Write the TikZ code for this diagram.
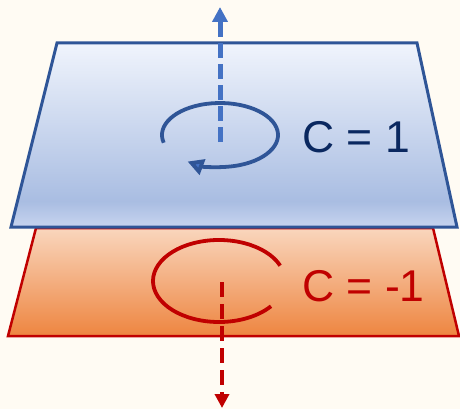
\documentclass[tikz,border=0pt]{standalone}
\usepackage{fontspec}
\setmainfont{Liberation Sans}
\usetikzlibrary{arrows.meta}
\definecolor{bgc}{HTML}{FFFBF3}
\definecolor{bedge}{HTML}{2F5597}
\definecolor{barrow}{HTML}{4472C4}
\definecolor{btop}{HTML}{F0F4FC}
\definecolor{bmid}{HTML}{A9BDE2}
\definecolor{bbot}{HTML}{C7D4EF}
\definecolor{rtop}{HTML}{F9D6BD}
\definecolor{rbot}{HTML}{EE8540}
\definecolor{redc}{HTML}{C00000}
\definecolor{navy}{HTML}{0A2860}
\pgfdeclareverticalshading{blueplane}{100bp}{color(0bp)=(bbot); color(25bp)=(bbot); color(32bp)=(bmid); color(75bp)=(btop); color(100bp)=(btop)}
\tikzset{
  lbl/.style={anchor=base west, inner sep=0pt, font=\fontsize{44.5}{50}\selectfont},
  bluedash/.style={draw=barrow, line width=5pt, dash pattern=on 15pt off 6pt, -{Triangle[length=15pt,width=15pt]}},
  reddash/.style={draw=redc, line width=4pt, dash pattern=on 15pt off 7pt, -{Triangle[length=14pt,width=14pt]}},
}
\begin{document}
\begin{tikzpicture}[x=1pt,y=-1pt]
\fill[bgc] (0,0) rectangle (460,409);
\useasboundingbox (0,0) rectangle (460,409);
% red plane
\shade[top color=rtop, bottom color=rbot, draw=redc, line width=2.5pt, line join=miter]
  (36,228) -- (433,228) -- (459,336) -- (8,336) -- cycle;
% red loop
\draw[redc, line width=3.8pt] (219,281) ++(-22:66 and 41) coordinate (rl0)
  arc[start angle=-22, end angle=-322, x radius=66, y radius=41];
% red arrow
\coordinate (rs) at (222,282);
\coordinate (re) at (222,408);
\draw[reddash] (rs) -- (re);
% blue plane
\shade[shading=blueplane, draw=bedge, line width=3pt, line join=miter]
  (57,43) -- (417,43) -- (457,227) -- (11,227) -- cycle;
% blue arrow
\coordinate (bs) at (220,142);
\coordinate (be) at (220,7);
\draw[bluedash] (bs) -- (be);
% blue loop
\draw[bedge, line width=3.8pt, -{Triangle[length=16pt,width=16pt,fill=barrow]}]
  (220,135) ++(166:58 and 32) coordinate (bl0)
  arc[start angle=166, end angle=484, x radius=58, y radius=32];
% labels
\node[lbl, text=navy] (c1) at (302,152) {C = 1};
\node[lbl, text=redc] (c2) at (302,301) {C = -1};
\end{tikzpicture}
\end{document}
